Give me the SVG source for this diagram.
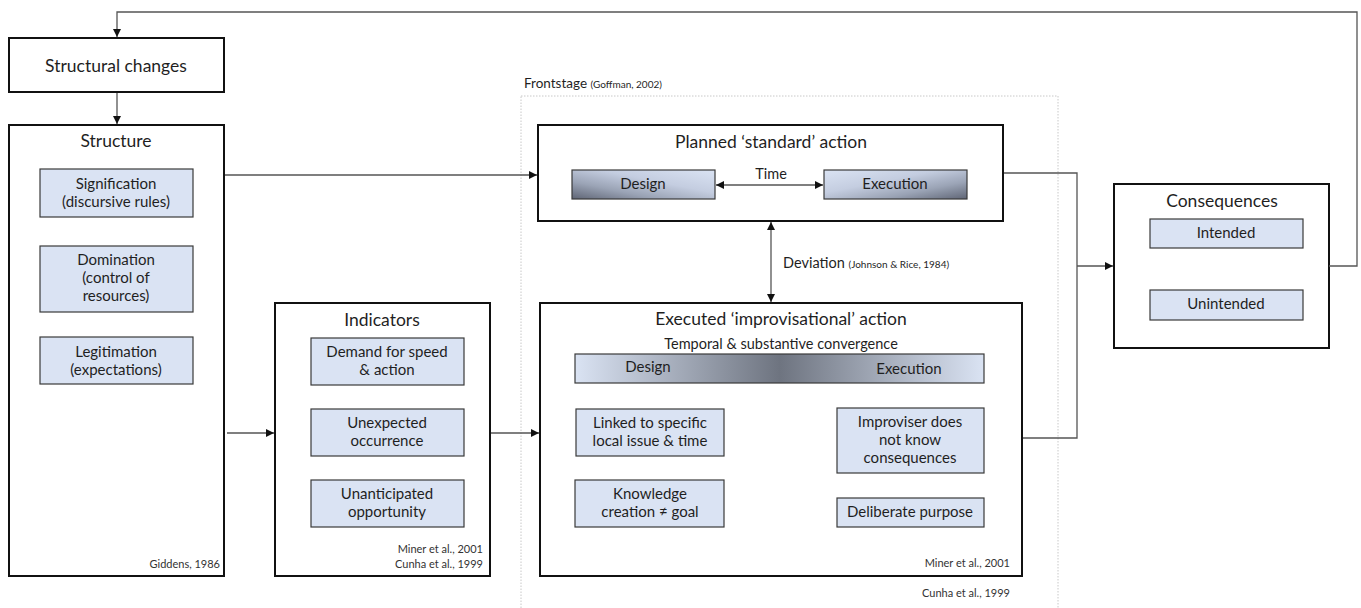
<svg xmlns="http://www.w3.org/2000/svg" width="1361" height="608" viewBox="0 0 1361 608">
  <style>
    text { font-family: Lato, "Noto Sans", sans-serif; fill: #1f1f1f; }
    .main { fill: #ffffff; stroke: #111111; stroke-width: 2; }
    .item { fill: #dae3f3; stroke: #3a3a3a; stroke-width: 1.2; }
    .title { font-size: 17.5px; text-anchor: middle; }
    .label { font-size: 15px; text-anchor: middle; }
    .cite { font-size: 11px; text-anchor: end; fill: #333333; }
    .conn { fill: none; stroke: #555555; stroke-width: 1.3; }
    .frame { fill: none; stroke: #c8c8c8; stroke-width: 1; stroke-dasharray: 1.5 1.5; }
  </style>
  <defs>
    <marker id="arrow" viewBox="0 0 10 10" refX="10" refY="5" markerWidth="8" markerHeight="8" markerUnits="userSpaceOnUse" orient="auto-start-reverse">
      <path d="M0,0 L10,5 L0,10 z" fill="#111111"/>
    </marker>
    <linearGradient id="gradDesign" x1="0" y1="1" x2="1" y2="0">
      <stop offset="0" stop-color="#5f6575"/>
      <stop offset="0.3" stop-color="#9aa3b5"/>
      <stop offset="0.6" stop-color="#c4cde0"/>
      <stop offset="1" stop-color="#dae3f3"/>
    </linearGradient>
    <linearGradient id="gradExec" x1="0" y1="0" x2="1" y2="1">
      <stop offset="0" stop-color="#dae3f3"/>
      <stop offset="0.4" stop-color="#c4cde0"/>
      <stop offset="0.7" stop-color="#9aa3b5"/>
      <stop offset="1" stop-color="#5f6575"/>
    </linearGradient>
    <linearGradient id="gradBar" x1="0" y1="0" x2="1" y2="0">
      <stop offset="0" stop-color="#dae3f3"/>
      <stop offset="0.5" stop-color="#6e7480"/>
      <stop offset="1" stop-color="#dae3f3"/>
    </linearGradient>
  </defs>

  <!-- Frontstage region -->
  <g id="frontstage">
    <rect class="frame" x="521" y="96" width="537" height="520"/>
    <text x="524" y="88" font-size="13.5">Frontstage <tspan font-size="10">(Goffman, 2002)</tspan></text>
    <text class="cite" x="1010" y="597">Cunha et al., 1999</text>
  </g>

  <g id="structural-changes">
    <rect class="main" x="9" y="38" width="215" height="54"/>
    <text class="title" x="116" y="72">Structural changes</text>
  </g>

  <g id="structure">
    <rect class="main" x="9" y="125" width="215" height="451"/>
    <text class="title" x="116" y="147">Structure</text>
    <rect class="item" x="40" y="169" width="153" height="48"/>
    <text class="label" x="116" y="189">Signification</text>
    <text class="label" x="116" y="207">(discursive rules)</text>
    <rect class="item" x="40" y="246" width="153" height="66"/>
    <text class="label" x="116" y="265">Domination</text>
    <text class="label" x="116" y="283">(control of</text>
    <text class="label" x="116" y="301">resources)</text>
    <rect class="item" x="40" y="337" width="153" height="47"/>
    <text class="label" x="116" y="357">Legitimation</text>
    <text class="label" x="116" y="375">(expectations)</text>
    <text class="cite" x="220" y="568">Giddens, 1986</text>
  </g>

  <g id="indicators">
    <rect class="main" x="275" y="303" width="215" height="273"/>
    <text class="title" x="382" y="326">Indicators</text>
    <rect class="item" x="311" y="338" width="153" height="47"/>
    <text class="label" x="387" y="357">Demand for speed</text>
    <text class="label" x="387" y="375">&amp; action</text>
    <rect class="item" x="311" y="409" width="153" height="47"/>
    <text class="label" x="387" y="428">Unexpected</text>
    <text class="label" x="387" y="446">occurrence</text>
    <rect class="item" x="311" y="480" width="153" height="47"/>
    <text class="label" x="387" y="499">Unanticipated</text>
    <text class="label" x="387" y="517">opportunity</text>
    <text class="cite" x="483" y="553">Miner et al., 2001</text>
    <text class="cite" x="483" y="568">Cunha et al., 1999</text>
  </g>

  <g id="planned-action">
    <rect class="main" x="538" y="125" width="465" height="96"/>
    <text class="title" x="771" y="148">Planned ‘standard’ action</text>
    <rect x="572" y="170" width="143" height="29" fill="url(#gradDesign)" stroke="#3a3a3a" stroke-width="1.2"/>
    <text class="label" x="643" y="189">Design</text>
    <rect x="824" y="170" width="143" height="29" fill="url(#gradExec)" stroke="#3a3a3a" stroke-width="1.2"/>
    <text class="label" x="895" y="189">Execution</text>
  </g>

  <g id="improvisational-action">
    <rect class="main" x="540" y="303" width="482" height="273"/>
    <text class="title" x="781" y="325">Executed ‘improvisational’ action</text>
    <text x="781" y="349" font-size="14.5" text-anchor="middle">Temporal &amp; substantive convergence</text>
    <rect x="575" y="354" width="409" height="29" fill="url(#gradBar)" stroke="#3a3a3a" stroke-width="1.2"/>
    <text class="label" x="648" y="372">Design</text>
    <text class="label" x="909" y="374">Execution</text>
    <rect class="item" x="576" y="409" width="148" height="47"/>
    <text class="label" x="650" y="428">Linked to specific</text>
    <text class="label" x="650" y="446">local issue &amp; time</text>
    <rect class="item" x="575" y="480" width="149" height="47"/>
    <text class="label" x="650" y="499">Knowledge</text>
    <text class="label" x="650" y="517">creation ≠ goal</text>
    <rect class="item" x="837" y="408" width="147" height="65"/>
    <text class="label" x="910" y="427">Improviser does</text>
    <text class="label" x="910" y="445">not know</text>
    <text class="label" x="910" y="463">consequences</text>
    <rect class="item" x="837" y="498" width="147" height="29"/>
    <text class="label" x="910" y="517">Deliberate purpose</text>
    <text class="cite" x="1010" y="567">Miner et al., 2001</text>
  </g>

  <g id="consequences">
    <rect class="main" x="1114" y="184" width="215" height="164"/>
    <text class="title" x="1222" y="207">Consequences</text>
    <rect class="item" x="1150" y="219" width="153" height="29"/>
    <text class="label" x="1226" y="238">Intended</text>
    <rect class="item" x="1150" y="290" width="153" height="30"/>
    <text class="label" x="1226" y="309">Unintended</text>
  </g>

  <!-- Connectors -->
  <g id="connectors">
    <polyline class="conn" points="1329,266 1357,266 1357,12 117,12 117,37" marker-end="url(#arrow)"/>
    <line class="conn" x1="117" y1="93" x2="117" y2="124" marker-end="url(#arrow)"/>
    <line class="conn" x1="225" y1="175" x2="537" y2="175" marker-end="url(#arrow)"/>
    <line class="conn" x1="227" y1="433" x2="274" y2="433" marker-end="url(#arrow)"/>
    <line class="conn" x1="491" y1="433" x2="539" y2="433" marker-end="url(#arrow)"/>
    <line class="conn" x1="716" y1="185" x2="823" y2="185" marker-start="url(#arrow)" marker-end="url(#arrow)"/>
    <line class="conn" x1="771" y1="222" x2="771" y2="302" marker-start="url(#arrow)" marker-end="url(#arrow)"/>
    <polyline class="conn" points="1004,173 1077,173 1077,438 1023,438"/>
    <line class="conn" x1="1077" y1="266" x2="1113" y2="266" marker-end="url(#arrow)"/>
    <text x="771" y="179" font-size="14.5" text-anchor="middle">Time</text>
    <text x="783" y="268" font-size="14.5">Deviation <tspan font-size="10">(Johnson &amp; Rice, 1984)</tspan></text>
  </g>
</svg>
